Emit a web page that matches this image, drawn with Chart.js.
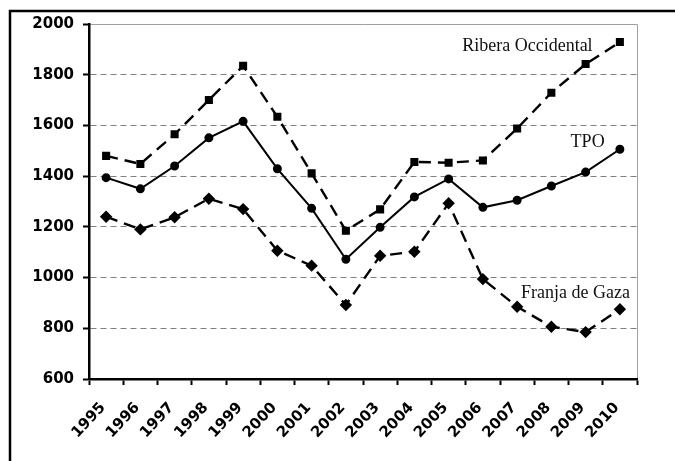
<!DOCTYPE html>
<html>
<head>
<meta charset="utf-8">
<script src="https://cdn.jsdelivr.net/npm/chart.js@4.4.1/dist/chart.umd.min.js"></script>
<style>
  html, body { margin: 0; padding: 0; background: #fff; }
  #wrap { width: 675px; height: 461px; position: relative; }
</style>
</head>
<body>
<div id="wrap"><canvas id="myChart" width="675" height="461"></canvas></div>
<script>
var years = ['1995', '1996', '1997', '1998', '1999', '2000', '2001', '2002',
             '2003', '2004', '2005', '2006', '2007', '2008', '2009', '2010'];

// Ribera Occidental (squares, dashed)
var riberaValues = [1480, 1448, 1565, 1700, 1835, 1634, 1411, 1185,
                    1269, 1456, 1453, 1462, 1588, 1729, 1842, 1929];
// TPO (circles, solid)
var tpoValues = [1394, 1350, 1440, 1551, 1616, 1429, 1273, 1072,
                 1198, 1318, 1389, 1277, 1305, 1361, 1416, 1506];
// Franja de Gaza (diamonds, dashed)
var gazaValues = [1240, 1190, 1238, 1311, 1270, 1106, 1047, 892,
                  1086, 1102, 1293, 994, 885, 806, 785, 875];

var yTicks = [600, 800, 1000, 1200, 1400, 1600, 1800, 2000];

// series names written inside the plot, anchored in data coordinates
var seriesLabels = [
    { text: 'Ribera Occidental', at: 14, value: 1912, align: 'right', dx: 7 },
    { text: 'TPO', at: 14, value: 1534, align: 'center', dx: 2 },
    { text: 'Franja de Gaza', at: 15, value: 939, align: 'right', dx: 10 }
];

var element = document.getElementById('myChart').getContext('2d');

// outer frame, grey plot box and the in-plot series names
var framePlugin = {
    id: 'frame',
    beforeDraw: function (chart) {
        var c = chart.ctx, a = chart.chartArea;
        c.save();
        c.fillStyle = '#fff';
        c.fillRect(0, 0, chart.width, chart.height);
        c.strokeStyle = '#000';
        c.lineWidth = 2.5;
        c.beginPath();
        c.moveTo(10, 461);
        c.lineTo(10, 11);
        c.lineTo(675, 11);
        c.stroke();
        c.strokeStyle = '#a0a0a0';
        c.lineWidth = 1;
        c.beginPath();
        c.moveTo(a.left, a.top + 0.5);
        c.lineTo(a.right + 0.5, a.top + 0.5);
        c.lineTo(a.right + 0.5, a.bottom);
        c.stroke();
        c.restore();
    },
    afterDatasetsDraw: function (chart) {
        var c = chart.ctx;
        var xs = chart.scales.x, ys = chart.scales.y;
        c.save();
        c.font = '18px "Liberation Serif", "Times New Roman", serif';
        c.fillStyle = '#111';
        c.textBaseline = 'middle';
        seriesLabels.forEach(function (l) {
            c.textAlign = l.align;
            c.fillText(l.text, xs.getPixelForValue(l.at) + l.dx, ys.getPixelForValue(l.value));
        });
        c.restore();
    }
};

var chartData = {
    labels: years,
    datasets: [{
        label: 'Ribera Occidental',
        data: riberaValues,
        borderColor: '#000',
        backgroundColor: '#000',
        borderWidth: 2.4,
        borderDash: [12, 7],
        pointStyle: 'rect',
        pointRadius: 4,
        tension: 0
    }, {
        label: 'TPO',
        data: tpoValues,
        borderColor: '#000',
        backgroundColor: '#000',
        borderWidth: 2,
        pointStyle: 'circle',
        pointRadius: 3.5,
        tension: 0
    }, {
        label: 'Franja de Gaza',
        data: gazaValues,
        borderColor: '#000',
        backgroundColor: '#000',
        borderWidth: 2.4,
        borderDash: [12, 7],
        pointStyle: 'rectRot',
        pointRadius: 4.5,
        tension: 0
    }]
};

var tickFont = { family: '"DejaVu Sans", sans-serif', size: 15, weight: 'bold' };

var chartOptions = {
    responsive: false,
    animation: false,
    layout: { padding: { left: 0, top: 24, right: 38, bottom: 0 } },
    plugins: { legend: { display: false }, tooltip: { enabled: false } },
    scales: {
        x: {
            offset: true,
            grid: {
                offset: true,
                drawOnChartArea: false,
                drawTicks: true,
                tickLength: 6,
                tickColor: '#000',
                tickWidth: 2
            },
            border: { color: '#000', width: 2.5 },
            ticks: {
                color: '#000',
                font: tickFont,
                minRotation: 47,
                maxRotation: 47,
                padding: 14,
                labelOffset: -3,
                autoSkip: false
            },
            afterFit: function (s) { s.height = 461 - 379; }
        },
        y: {
            min: 600,
            max: 2000,
            afterBuildTicks: function (s) {
                s.ticks = yTicks.map(function (v) { return { value: v }; });
            },
            grid: {
                color: function (ctx) {
                    var v = ctx.tick ? ctx.tick.value : 0;
                    return (v === 600 || v === 2000) ? 'rgba(0,0,0,0)' : '#808080';
                },
                lineWidth: 1,
                tickLength: 6,
                tickColor: '#000',
                tickWidth: 2
            },
            border: { color: '#000', width: 2.5, dash: [6, 4] },
            ticks: {
                color: '#000',
                font: tickFont,
                padding: 9,
                callback: function (v) { return String(v); }
            },
            afterFit: function (s) { s.width = 89; }
        }
    }
};

var chart = new Chart(element, { type: 'line', data: chartData, options: chartOptions, plugins: [framePlugin] });
</script>
</body>
</html>
